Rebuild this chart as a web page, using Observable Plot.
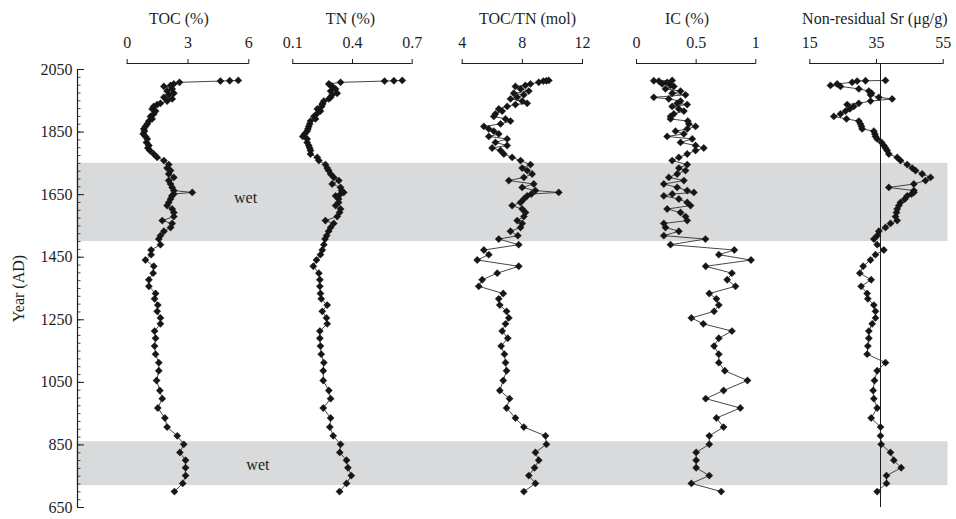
<!DOCTYPE html>
<html><head><meta charset="utf-8">
<script src="https://cdn.jsdelivr.net/npm/d3@7"></script>
<script src="https://cdn.jsdelivr.net/npm/@observablehq/plot@0.6"></script>
<style>
body{margin:0;background:#fff}
#chart{position:relative;width:956px;height:519px;overflow:hidden;background:#fff}
#chart svg{position:absolute;top:0}
</style>
</head><body><div id="chart"></div>
<script>
// Sample ages (AD), shared by all five proxies
const years = [701,727,752,777,801,826,852,879,907,936,968,998,1024,1056,1087,1113,1140,1166,1191,1214,1237,1256,1277,1297,1317,1334,1357,1378,1399,1421,1441,1458,1473,1490,
 1508,1519,1533,1545,1558,1567,1580,1593,1604,1615,1625,1636,1646,1652,1657,1663,1673,1684,1695,1705,1716,1727,1735,1746,1759,1769,1780,1791,1799,1807,1817,1828,1836,1844,1853,1860,1868,1876,1885,1892,1900,1908,1917,1924,1932,1938,1942,1949,1956,1961,1969,1974,1981,1988,1996,1999,2004,2009,2013,2014,2015];

const toc = [2.33,2.74,2.88,2.88,2.88,2.60,2.79,2.47,1.97,1.86,1.51,1.73,1.61,1.45,1.56,1.56,1.40,1.35,1.40,1.35,1.64,1.64,1.48,1.51,1.35,1.40,1.07,1.07,1.28,1.31,0.90,1.18,1.18,1.64,
 1.56,1.64,1.81,2.14,2.22,1.73,2.30,2.30,2.22,1.97,2.05,2.14,2.20,2.30,3.21,2.30,2.22,2.14,2.05,2.30,2.05,2.14,1.97,2.05,1.81,1.48,1.31,1.12,1.02,1.07,0.95,0.99,0.90,0.79,0.85,0.82,0.90,0.99,1.07,1.23,1.15,1.31,1.40,1.23,1.31,1.48,1.64,1.97,2.22,1.81,2.05,2.30,1.97,2.22,1.81,2.14,2.30,2.58,4.60,5.06,5.48];

const tn = [0.335,0.370,0.394,0.377,0.370,0.336,0.340,0.303,0.286,0.290,0.253,0.290,0.281,0.253,0.253,0.256,0.243,0.239,0.236,0.236,0.273,0.269,0.248,0.273,0.243,0.239,0.236,0.236,0.231,0.203,0.219,0.239,0.248,0.256,
 0.262,0.270,0.280,0.290,0.306,0.264,0.323,0.335,0.340,0.315,0.330,0.330,0.315,0.340,0.356,0.345,0.340,0.298,0.331,0.306,0.290,0.280,0.273,0.264,0.231,0.223,0.189,0.189,0.185,0.180,0.172,0.172,0.150,0.160,0.172,0.176,0.180,0.185,0.189,0.214,0.206,0.220,0.239,0.223,0.245,0.248,0.250,0.256,0.281,0.290,0.298,0.323,0.290,0.315,0.298,0.290,0.281,0.340,0.561,0.608,0.650];

const tocTn = [8.10,8.87,8.43,8.81,9.09,8.87,9.60,9.54,8.10,7.54,6.95,7.15,6.50,6.73,6.95,6.88,6.81,6.59,7.03,6.66,6.88,7.10,6.95,6.50,6.43,6.73,5.10,5.33,6.33,7.76,5.00,5.77,5.44,7.76,
 6.43,7.70,7.21,7.88,7.99,7.66,8.10,8.21,7.99,7.32,7.88,8.10,8.32,8.60,10.42,8.87,7.99,8.76,7.10,8.10,8.65,8.32,7.99,8.54,7.88,7.32,6.77,6.55,5.99,6.99,6.21,6.99,5.77,6.43,6.10,5.77,5.44,6.55,7.21,6.88,6.10,6.21,6.66,6.43,6.99,7.54,8.32,7.99,7.21,7.66,8.10,7.43,8.43,7.88,7.54,8.20,8.54,9.09,9.40,9.60,9.76];

const ic = [0.71,0.46,0.61,0.50,0.50,0.50,0.61,0.61,0.73,0.67,0.87,0.58,0.73,0.93,0.74,0.69,0.69,0.65,0.69,0.80,0.56,0.46,0.65,0.69,0.67,0.61,0.83,0.76,0.80,0.58,0.96,0.69,0.82,0.285,
 0.578,0.229,0.355,0.243,0.229,0.425,0.411,0.369,0.257,0.453,0.425,0.355,0.229,0.300,0.481,0.425,0.341,0.229,0.397,0.271,0.341,0.411,0.355,0.425,0.299,0.355,0.425,0.495,0.564,0.495,0.369,0.467,0.257,0.397,0.327,0.425,0.495,0.439,0.430,0.285,0.285,0.313,0.397,0.355,0.299,0.425,0.341,0.369,0.271,0.145,0.411,0.299,0.369,0.243,0.313,0.285,0.215,0.257,0.187,0.145,0.299];

const sr = [35.2,38.0,38.0,42.4,40.2,39.2,36.4,36.2,36.2,33.4,35.2,34.2,34.0,34.4,35.2,37.7,32.2,32.4,32.7,32.7,33.7,34.7,34.7,34.2,32.4,32.2,30.4,33.4,30.0,31.0,33.2,34.7,37.2,35.2,
 34.2,35.2,35.7,37.7,39.2,41.2,40.7,41.0,41.2,41.7,42.2,43.5,44.2,45.5,46.2,46.2,38.7,46.2,49.7,51.2,48.7,46.7,45.7,44.2,42.2,41.2,38.7,38.2,37.7,37.2,36.5,35.2,34.7,34.5,34.2,30.7,30.5,30.2,29.7,26.0,22.2,24.2,25.7,27.0,28.2,26.2,29.7,33.2,39.7,35.7,33.2,33.5,32.7,29.7,24.2,21.2,23.2,27.7,29.2,31.7,37.7];

const wetBands = [{start: 720, end: 860, labelYear: 785, labelX: 6.45}, {start: 1500, end: 1750, labelYear: 1640, labelX: 5.84}];
const yearTicks = [650, 850, 1050, 1250, 1450, 1650, 1850, 2050];
const minorYearTicks = d3.range(650, 2051, 25);
const srReference = 36.2;

const panels = [
  {title: "TOC (%)", values: toc, domain: [0, 6], ticks: [0, 3, 6], left: 0, width: 270, ml: 77, mr: 0, range: [126.7, 248.3], titleX: 2.55, labels: true},
  {title: "TN (%)", values: tn, domain: [0.1, 0.7], ticks: [0.1, 0.4, 0.7], left: 270, width: 167, ml: 0, mr: 0, range: [22.3, 141.7], titleX: 0.39},
  {title: "TOC/TN (mol)", values: tocTn, domain: [4, 12], ticks: [4, 8, 12], left: 437, width: 172, ml: 0, mr: 0, range: [24.7, 145], titleX: 8.34},
  {title: "IC (%)", values: ic, domain: [0, 1], ticks: [0, 0.5, 1], left: 609, width: 173, ml: 0, mr: 0, range: [27, 146.3], titleX: 0.423},
  {title: "Non-residual Sr (μg/g)", values: sr, domain: [15, 55], ticks: [15, 35, 55], left: 782, width: 174, ml: 0, mr: 9, range: [27.3, 160.7], titleX: 34.5, ref: srReference}
];

const ink = "#1e1e1e";
const baseStyle = {fontFamily: "'Liberation Serif', 'Times New Roman', serif", fontSize: "16px", color: ink, background: "transparent", overflow: "visible"};
const yScale = {domain: [650, 2050], range: [507, 69]};
const chart = document.getElementById("chart");

for (const p of panels) {
  const data = years.map((y, i) => ({year: y, v: p.values[i]}));
  const marks = [
    Plot.rect(wetBands, {y1: "start", y2: "end", fill: "#d9dadb", insetLeft: -0.5, insetRight: -0.5}),
    Plot.ruleY([2050], {x1: p.domain[0], x2: p.domain[1], dy: -6, stroke: ink, strokeWidth: 1.2}),
    Plot.axisX({anchor: "top", ticks: p.ticks, tickSize: 5, tickPadding: 11, tickFormat: d => String(d), stroke: ink, label: null}),
    Plot.text([p.title], {x: p.titleX, y: 2050, dy: -51, text: d => d, fill: ink}),
  ];
  if (p.ref !== undefined) marks.push(Plot.ruleX([p.ref], {stroke: ink, strokeWidth: 1}));
  marks.push(
    Plot.line(data, {x: "v", y: "year", stroke: "#333", strokeWidth: 0.9}),
    Plot.dot(data, {x: "v", y: "year", symbol: "diamond2", r: 3.3, fill: "#161616", stroke: "#161616", strokeWidth: 0.3})
  );
  if (p.labels) marks.push(Plot.text(wetBands, {x: "labelX", y: "labelYear", text: () => "wet", fill: "#222"}));
  const svg = Plot.plot({
    width: p.width, height: 519,
    marginTop: 63, marginBottom: 12, marginLeft: p.ml, marginRight: p.mr,
    x: {domain: p.domain, range: p.range, label: null},
    y: {...yScale, axis: null},
    style: baseStyle,
    marks
  });
  svg.style.left = p.left + "px";
  chart.appendChild(svg);
}

// Year axis (drawn on top, ticks pointing inward)
const yAxis = Plot.plot({
  width: 92, height: 519,
  marginTop: 63, marginBottom: 12, marginLeft: 77, marginRight: 0,
  x: {domain: [0, 1], range: [77, 87], axis: null},
  y: {...yScale, label: null},
  style: baseStyle,
  marks: [
    Plot.ruleX([0], {y1: 650, y2: 2050, stroke: ink, strokeWidth: 1.2}),
    Plot.ruleY(minorYearTicks, {x1: 0, x2: 0.35, stroke: ink, strokeWidth: 0.8}),
    Plot.ruleY(yearTicks, {x1: 0, x2: 0.7, stroke: ink, strokeWidth: 1}),
    Plot.axisY({anchor: "left", ticks: yearTicks, tickSize: 0, tickPadding: 5, tickFormat: d => String(d), label: null}),
    Plot.text(["Year (AD)"], {x: 0, y: 1350, dx: -59, rotate: -90, text: d => d, fill: ink})
  ]
});
yAxis.style.left = "0px";
chart.appendChild(yAxis);
</script>
</body></html>
